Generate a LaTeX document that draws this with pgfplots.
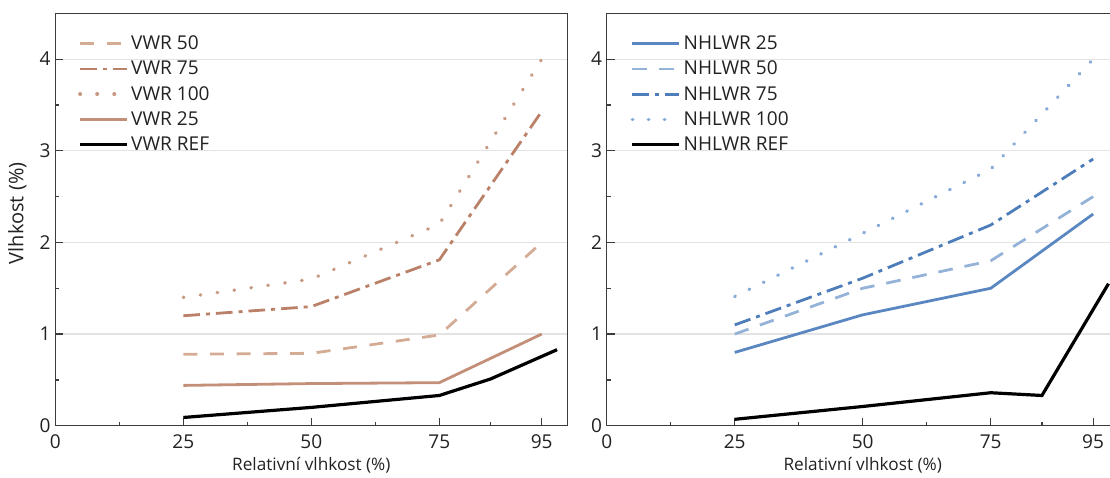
\documentclass[border=0pt]{standalone}
\usepackage{fontspec}
\setmainfont{Open Sans}
\usepackage{pgfplots}
\pgfplotsset{compat=1.18}

\definecolor{framegray}{HTML}{3C3C3C}
\definecolor{gridgray}{HTML}{E3E3E3}
\definecolor{txt}{HTML}{222222}
% brown family (VWR)
\definecolor{vwrA}{HTML}{C48F78}
\definecolor{vwrB}{HTML}{D4AC95}
\definecolor{vwrC}{HTML}{BA8168}
\definecolor{vwrD}{HTML}{C99A83}
% blue family (NHLWR)
\definecolor{nhA}{HTML}{5A87C1}
\definecolor{nhB}{HTML}{95B2D9}
\definecolor{nhC}{HTML}{4E7EBA}
\definecolor{nhD}{HTML}{86A9D8}

\newcommand{\tickfont}{\fontsize{14.3}{17}\selectfont}
\newcommand{\xlabfont}{\fontsize{12.9}{15}\selectfont}
\newcommand{\ylabfont}{\fontsize{15}{18}\selectfont}

\pgfplotsset{
  panel/.style={
    scale only axis, width=384pt, height=309.3pt,
    xmin=0, xmax=100, ymin=0, ymax=4.5,
    xtick={0,25,50,75,95}, minor xtick={12.5,37.5,62.5,85},
    ytick={0,1,2,3,4}, minor ytick={0.5,1.5,2.5,3.5},
    tick pos=left, tick align=inside,
    major tick length=6pt, minor tick length=3pt,
    tick style={draw=framegray, line width=0.9pt},
    axis line style={draw=framegray, line width=1pt},
    ymajorgrids, grid style={draw=gridgray, line width=0.9pt},
    /pgf/number format/assume math mode=true,
    ticklabel style={font=\tickfont, text=txt},
    xticklabel style={yshift=-3.5pt},
    every axis x label/.style={at={(axis description cs:0.5,0)}, yshift=-30pt,
      anchor=center, font=\xlabfont, text=txt},
    every axis y label/.style={at={(axis description cs:-0.074,0.515)}, rotate=90,
      anchor=center, font=\ylabfont, text=txt},
    xlabel={Relativní vlhkost (\%)},
    legend cell align=left,
    legend image code/.code={\draw[##1] (0pt,0pt) -- (35pt,0pt);},
    legend style={draw=none, fill=none, inner sep=0pt, anchor=north west,
      font=\tickfont, text=txt,
      row sep=7.1pt, column sep=2.2pt, nodes={inner sep=0pt}},
  },
  solidln/.style={line width=2.1pt},
  dashln/.style={line width=2.1pt, dash pattern=on 10.5pt off 9.5pt},
  dashdotln/.style={line width=2.1pt, dash pattern=on 12.5pt off 4.5pt on 3pt off 4.5pt},
  dotln/.style={line width=2.6pt, line cap=round, dash pattern=on 0.4pt off 12.4pt},
  refln/.style={line width=2.4pt, black},
}

\begin{document}
\begin{tikzpicture}
% VWR panel
\begin{axis}[panel, at={(0pt,0pt)}, anchor=south west,
  ylabel={Vlhkost (\%)},
  legend style={at={(axis description cs:0.044,0.946)}}]
\addplot[dashln, vwrB] coordinates {(25,0.78) (50,0.79) (75,0.99) (95,2.0)};
\addlegendentry{VWR 50}
\addplot[dashdotln, vwrC] coordinates {(25,1.2) (50,1.3) (75,1.81) (95,3.43)};
\addlegendentry{VWR 75}
\addplot[dotln, vwrD] coordinates {(25,1.4) (50,1.6) (75,2.2) (95,4.0)};
\addlegendentry{VWR 100}
\addplot[solidln, vwrA] coordinates {(25,0.44) (50,0.46) (75,0.47) (95,1.0)};
\addlegendentry{VWR 25}
\addplot[refln] coordinates {(25,0.09) (50,0.2) (75,0.33) (85,0.51) (98,0.83)};
\addlegendentry{VWR REF}
\end{axis}
% NHLWR panel
\begin{axis}[panel, at={(413.55pt,0pt)}, anchor=south west,
  legend style={at={(axis description cs:0.046,0.946)}}]
\addplot[solidln, nhA] coordinates {(25,0.8) (50,1.21) (75,1.5) (95,2.31)};
\addlegendentry{NHLWR 25}
\addplot[dashln, nhB, dash pattern=on 11pt off 9pt] coordinates {(25,1.0) (50,1.5) (75,1.8) (95,2.5)};
\addlegendentry{NHLWR 50}
\addplot[dashdotln, nhC] coordinates {(25,1.1) (50,1.61) (75,2.19) (95,2.91)};
\addlegendentry{NHLWR 75}
\addplot[dotln, nhD, dash pattern=on 0.4pt off 11.6pt] coordinates {(25,1.41) (50,2.1) (75,2.8) (95,4.0)};
\addlegendentry{NHLWR 100}
\addplot[refln] coordinates {(25,0.07) (50,0.21) (75,0.36) (85,0.33) (98,1.55)};
\addlegendentry{NHLWR REF}
\end{axis}
\pgfresetboundingbox
\useasboundingbox (-41.5pt,-38.5pt) rectangle (791pt,319.3pt);
\end{tikzpicture}
\end{document}
